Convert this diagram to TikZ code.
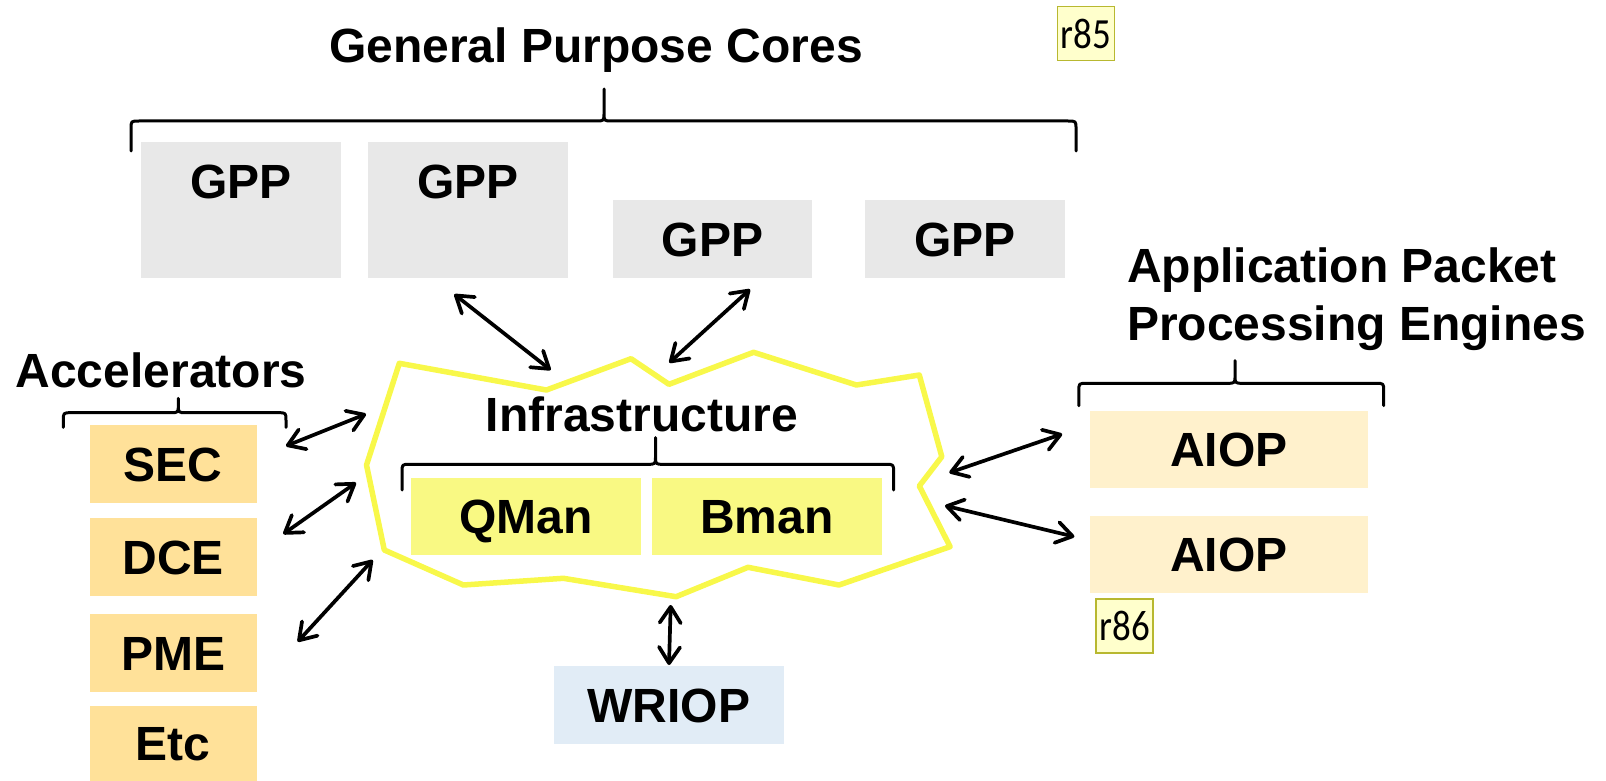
\documentclass[tikz,border=0pt]{standalone}
\usepackage{fontspec}
\setmainfont{Liberation Sans}
\newfontfamily\tagfont[FakeStretch=0.86]{Carlito}
\usetikzlibrary{arrows.meta}

\definecolor{gppgray}{HTML}{E8E8E8}
\definecolor{accorange}{HTML}{FFE199}
\definecolor{aiopcream}{HTML}{FFF1CC}
\definecolor{infrayellow}{HTML}{F9F983}
\definecolor{cloudline}{HTML}{F8F84A}
\definecolor{wriopblue}{HTML}{E1ECF6}
\definecolor{tagfill}{HTML}{FFFFCC}
\definecolor{tagedge}{HTML}{B8B830}

\newcommand{\bigtext}{\bfseries\fontsize{48}{57}\selectfont}

% horizontal curly brace: x-left, x-right, y of bar, y of ends, x of tip, y of tip
\newcommand{\topbrace}[6]{%
  \draw[bracepath] (#1,#4) -- (#1,#3+8) .. controls (#1,#3) .. (#1+8,#3)
    -- (#5-8,#3) .. controls (#5,#3) .. (#5,#3-8) -- (#5,#6)
    -- (#5,#3-8) .. controls (#5,#3) .. (#5+8,#3)
    -- (#2-8,#3) .. controls (#2,#3) .. (#2,#3+8) -- (#2,#4);}

\tikzset{
  blk/.style={rectangle, draw=none, inner sep=0pt, text height=34.4pt, text depth=0pt, font=\bigtext},
  heading/.style={inner sep=0pt, font=\bigtext},
  tagbox/.style={rectangle, draw=tagedge, line width=1.5pt, fill=tagfill, inner sep=0pt,
    minimum width=57pt, minimum height=54pt, font=\tagfont\fontsize{43}{50}\selectfont},
  link/.style={line width=3.7pt, line cap=round,
    {Straight Barb[length=16pt,width=21pt,round]}-{Straight Barb[length=16pt,width=21pt,round]}},
  bracepath/.style={line width=3pt, line join=round, line cap=round},
}

\begin{document}
\begin{tikzpicture}[x=1pt,y=-1pt]
\useasboundingbox (0,0) rectangle (1606,781);

% general purpose cores
\node[heading, anchor=base] (gpctitle) at (596,63) {General Purpose Cores};
\topbrace{131}{1076}{121}{151}{604}{89}
\node[blk, fill=gppgray, minimum width=200pt, minimum height=136pt, text depth=58pt] (gpp1) at (240.8,209.9) {GPP};
\node[blk, fill=gppgray, minimum width=200pt, minimum height=136pt, text depth=58pt] (gpp2) at (468,209.9) {GPP};
\node[blk, fill=gppgray, minimum width=199pt, minimum height=78pt] (gpp3) at (712.5,238.9) {GPP};
\node[blk, fill=gppgray, minimum width=200pt, minimum height=78pt] (gpp4) at (965.2,238.9) {GPP};
\node[tagbox] (r85) at (1085.8,33.7) {r85};

% infrastructure cloud
\draw[cloudline, line width=5.5pt, line join=round]
  (399.3,363.3) -- (546.4,390) -- (631,358.7) -- (669,384.3) -- (753.6,352.3)
  -- (856.4,385) -- (919.3,375) -- (941.8,456.7) -- (919.3,486) -- (950.1,546.7)
  -- (839,585) -- (748,567.3) -- (676.1,596.7) -- (563.4,578.3) -- (463.4,585)
  -- (384.3,550) -- (366.5,465) -- cycle;
\node[heading, anchor=base] (infra) at (642,431.7) {Infrastructure};
\topbrace{402}{893.6}{464.3}{490}{655.5}{437.7}
\node[blk, fill=infrayellow, minimum width=229.3pt, minimum height=77.6pt] (qman) at (525.9,516.5) {QMan};
\node[blk, fill=infrayellow, minimum width=229.3pt, minimum height=77.6pt] (bman) at (767,516.5) {Bman};

% accelerators
\node[heading, anchor=base west] (acctitle) at (15.4,387) {Accelerators};
\topbrace{63.3}{286}{412.7}{427.3}{178.3}{398.3}
\node[blk, fill=accorange, minimum width=166.7pt, minimum height=77.7pt] (sec) at (173.3,463.9) {SEC};
\node[blk, fill=accorange, minimum width=166.7pt, minimum height=77.4pt] (dce) at (173.3,557) {DCE};
\node[blk, fill=accorange, minimum width=166.7pt, minimum height=77.4pt] (pme) at (173.3,653) {PME};
\node[blk, fill=accorange, minimum width=166.7pt, minimum height=75pt] (etc) at (173.3,743.5) {Etc};

% application packet processing engines
\node[heading, anchor=base west] (appe1) at (1127,282.3) {Application Packet};
\node[heading, anchor=base west] (appe2) at (1127,340) {Processing Engines};
\topbrace{1078.8}{1383.7}{383.3}{405.7}{1235}{360.7}
\node[blk, fill=aiopcream, minimum width=278.7pt, minimum height=77.3pt] (aiop1) at (1229,449.7) {AIOP};
\node[blk, fill=aiopcream, minimum width=278.7pt, minimum height=77.3pt] (aiop2) at (1229,554.7) {AIOP};
\node[tagbox] (r86) at (1124.7,626.2) {r86};

% wire I/O
\node[blk, fill=wriopblue, minimum width=230pt, minimum height=78pt] (wriop) at (669,705) {WRIOP};

% connector ends
\coordinate (gA) at (454.3,294.3);  \coordinate (cA) at (550.7,370);
\coordinate (gB) at (750,289.3);    \coordinate (cB) at (669.3,362.7);
\coordinate (aS) at (286,446);      \coordinate (cS) at (366,414);
\coordinate (aD) at (283.3,534);    \coordinate (cD) at (356,482.7);
\coordinate (aP) at (297.7,641.7);  \coordinate (cP) at (372.7,560);
\coordinate (cR1) at (949.3,472.7); \coordinate (pR1) at (1062.2,434);
\coordinate (cR2) at (945,505.7);   \coordinate (pR2) at (1074.4,536.7);
\coordinate (cW) at (670.7,605);    \coordinate (wW) at (669,665);

\draw[link] (gA) -- (cA);
\draw[link] (gB) -- (cB);
\draw[link] (aS) -- (cS);
\draw[link] (aD) -- (cD);
\draw[link] (aP) -- (cP);
\draw[link] (cR1) -- (pR1);
\draw[link] (cR2) -- (pR2);
\draw[link] (cW) -- (wW);
\end{tikzpicture}
\end{document}
